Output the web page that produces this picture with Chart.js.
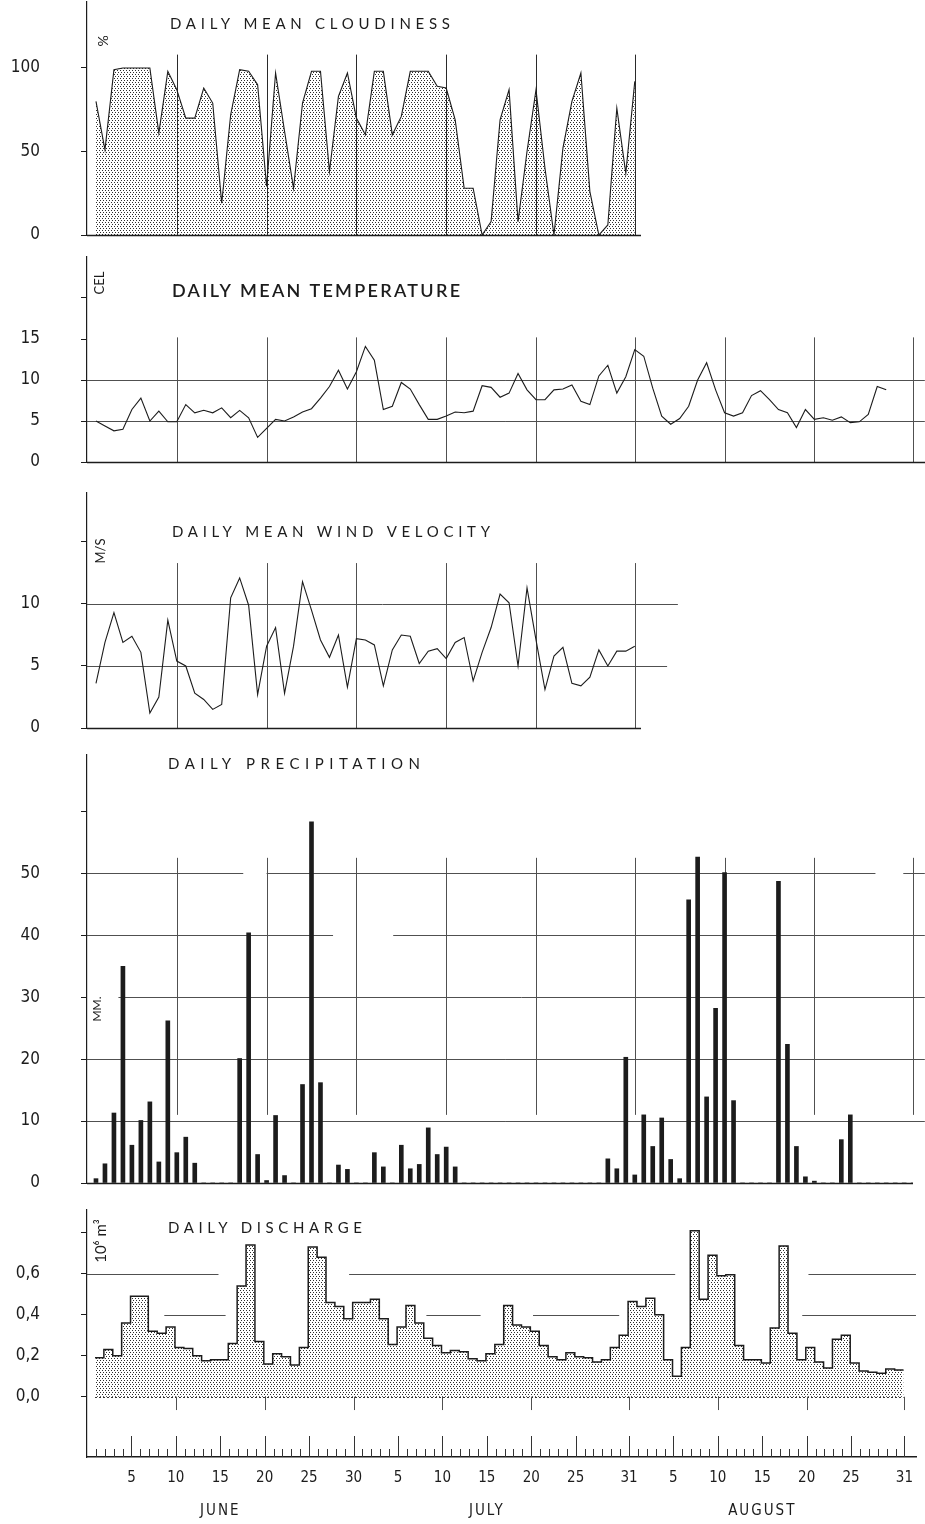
<!DOCTYPE html>
<html>
<head>
<meta charset="utf-8">
<title>Daily weather and discharge, June - August</title>
<script src="https://cdn.jsdelivr.net/npm/chart.js@4"></script>
<style>
  html, body { margin: 0; padding: 0; background: #fff; }
  body { width: 925px; height: 1524px; position: relative; overflow: hidden; }
  .panel { position: absolute; left: 0; width: 925px; }
</style>
</head>
<body>
<div class="panel" style="top:-10px;height:257px"><canvas id="cloud"></canvas></div>
<div class="panel" style="top:245px;height:229px"><canvas id="temp"></canvas></div>
<div class="panel" style="top:481px;height:259px"><canvas id="wind"></canvas></div>
<div class="panel" style="top:743px;height:452px"><canvas id="precip"></canvas></div>
<div class="panel" style="top:1198px;height:326px"><canvas id="discharge"></canvas></div>

<script>
// day 1 = 1 June, day 92 = 31 August
const monthNames = ['JUNE', 'JULY', 'AUGUST'];
const monthLengths = [30, 31, 31];
const gridDays = [10, 20, 30, 40, 50, 61, 71, 81, 92];

const cloudiness = [80, 51, 99, 100, 100, 100, 100, 61, 98, 87,
    70, 70, 88, 79, 19, 72, 99, 98, 90, 29,
    97, 62, 28, 79, 98, 98, 38, 83, 97, 70,
    60, 98, 98, 60, 71, 98, 98, 98, 89, 88,
    69, 28, 28, 0, 8, 69, 87, 8, 50, 87,
    40, 0, 52, 80, 97, 26, 0, 6, 76, 37,
    92];

const temperature = [5.0, 4.4, 3.8, 4.0, 6.4, 7.8, 5.0, 6.2, 4.9, 4.9,
    7.0, 6.0, 6.3, 6.0, 6.6, 5.4, 6.3, 5.4, 3.0, 4.1,
    5.2, 5.0, 5.5, 6.1, 6.5, 7.8, 9.2, 11.2, 8.9, 11.0,
    14.1, 12.4, 6.4, 6.8, 9.7, 8.9, 7.0, 5.2, 5.2, 5.6,
    6.1, 6.0, 6.2, 9.3, 9.1, 7.9, 8.4, 10.8, 8.8, 7.6,
    7.6, 8.8, 8.9, 9.4, 7.4, 7.0, 10.5, 11.8, 8.4, 10.4,
    13.7, 12.9, 9.0, 5.6, 4.6, 5.3, 6.8, 10.0, 12.1, 8.8,
    6.0, 5.6, 6.0, 8.1, 8.7, 7.6, 6.4, 6.0, 4.2, 6.4,
    5.2, 5.4, 5.1, 5.5, 4.8, 4.9, 5.8, 9.2, 8.8];

const windVelocity = [3.6, 6.9, 9.3, 6.9, 7.4, 6.1, 1.2, 2.5, 8.7, 5.4,
    5.0, 2.8, 2.3, 1.5, 1.9, 10.5, 12.1, 9.9, 2.7, 6.6,
    8.1, 2.8, 6.6, 11.8, 9.5, 7.1, 5.7, 7.5, 3.3, 7.2,
    7.1, 6.7, 3.4, 6.3, 7.5, 7.4, 5.2, 6.2, 6.4, 5.6,
    6.9, 7.3, 3.8, 6.1, 8.1, 10.8, 10.1, 5.0, 11.3, 7.1,
    3.1, 5.8, 6.5, 3.6, 3.4, 4.1, 6.3, 5.0, 6.2, 6.2,
    6.6];

const precipitation = [0.7, 3.1, 11.3, 35, 6.1, 10.1, 13.1, 3.4, 26.2, 4.9,
    7.4, 3.2, 0, 0, 0, 0, 20.1, 40.4, 4.6, 0.4,
    10.9, 1.2, 0, 15.9, 58.3, 16.2, 0, 2.9, 2.2, 0,
    0, 4.9, 2.6, 0, 6.1, 2.3, 3.0, 8.9, 4.6, 5.8,
    2.6, 0, 0, 0, 0, 0, 0, 0, 0, 0,
    0, 0, 0, 0, 0, 0, 0, 3.9, 2.3, 20.3,
    1.3, 11.0, 5.9, 10.5, 3.8, 0.7, 45.7, 52.6, 13.9, 28.2,
    50.1, 13.3, 0, 0, 0, 0, 48.7, 22.4, 5.9, 1.0,
    0.3, 0, 0, 7.0, 11.0, 0, 0, 0, 0, 0,
    0, 0];

const discharge = [0.19, 0.23, 0.20, 0.36, 0.49, 0.49, 0.32, 0.31, 0.34, 0.24,
    0.235, 0.20, 0.175, 0.18, 0.18, 0.26, 0.54, 0.74, 0.27, 0.16,
    0.21, 0.195, 0.155, 0.24, 0.73, 0.68, 0.46, 0.44, 0.38, 0.46,
    0.46, 0.475, 0.38, 0.255, 0.34, 0.445, 0.36, 0.285, 0.25, 0.215,
    0.225, 0.22, 0.185, 0.175, 0.21, 0.255, 0.445, 0.35, 0.34, 0.32,
    0.25, 0.195, 0.18, 0.215, 0.195, 0.19, 0.17, 0.18, 0.24, 0.30,
    0.465, 0.44, 0.48, 0.40, 0.18, 0.10, 0.24, 0.81, 0.475, 0.69,
    0.59, 0.595, 0.25, 0.18, 0.18, 0.165, 0.335, 0.735, 0.31, 0.18,
    0.24, 0.17, 0.14, 0.28, 0.30, 0.165, 0.125, 0.12, 0.115, 0.135,
    0.13];

const cloudTicks = [0, 50, 100];
const tempTicks = [0, 5, 10, 15, 20];
const windTicks = [0, 5, 10, 15];
const precipTicks = [0, 10, 20, 30, 40, 50, 60];
const dischargeTicks = [0, 0.2, 0.4, 0.6, 0.8];

// page geometry
const AXIS_X = 87;          // left axis line
const PX_DAY = 8.98;        // pixels per day
const PAGE_W = 925;
const INK = '#1c1c1c';
const GRID = '#505050';
const NUM_FONT = "'Liberation Sans Narrow', 'DejaVu Sans Condensed', sans-serif";
const TITLE_FONT = "Lato, 'DejaVu Sans', sans-serif";

// dotted screen used under the cloudiness and discharge curves
function stipple() {
    const tile = document.createElement('canvas');
    tile.width = 6;
    tile.height = 4;
    const g = tile.getContext('2d');
    g.fillStyle = '#2e2e2e';
    [[0, 0], [3, 0], [1, 2], [4, 2]].forEach(([px, py]) => g.fillRect(px, py, 1, 1));
    return g.createPattern(tile, 'repeat');
}

function dayOfMonth(d) {
    let m = 0;
    while (m < monthLengths.length - 1 && d > monthLengths[m]) {
        d -= monthLengths[m];
        m++;
    }
    return [m, d];
}

function isLabelled(dom, len) {
    return (dom % 5 === 0 && dom <= 25) || dom === len;
}

function series(values, shift) {
    return values.map((v, i) => ({ x: i + 1 - (shift || 0), y: v }));
}

// grid lines, titles, unit labels and the day axis
const decor = {
    id: 'decor',
    beforeDatasetsDraw(chart, args, o) {
        const { ctx, scales: { x, y } } = chart;
        ctx.save();
        ctx.lineWidth = 1;
        (o.hLines || []).forEach(h => {
            ctx.strokeStyle = h.color || GRID;
            ctx.setLineDash(h.dash || []);
            const py = Math.round(y.getPixelForValue(h.v)) + 0.5;
            h.segs.forEach(([d0, d1]) => {
                ctx.beginPath();
                ctx.moveTo(x.getPixelForValue(d0), py);
                ctx.lineTo(x.getPixelForValue(d1), py);
                ctx.stroke();
            });
        });
        ctx.setLineDash([]);
        if (o.vLines) {
            ctx.strokeStyle = o.vLines.color || GRID;
            gridDays.filter(d => d <= o.vLines.last).forEach(d => {
                const px = Math.round(x.getPixelForValue(d)) + 0.5;
                ctx.beginPath();
                ctx.moveTo(px, y.getPixelForValue(o.vLines.from));
                ctx.lineTo(px, y.getPixelForValue(o.vLines.to));
                ctx.stroke();
            });
        }
        ctx.restore();
    },
    afterDraw(chart, args, o) {
        const { ctx, chartArea: a, scales: { x } } = chart;
        ctx.save();
        ctx.fillStyle = INK;
        ctx.strokeStyle = INK;
        if (o.baseLine) {
            ctx.lineWidth = 1.3;
            ctx.beginPath();
            ctx.moveTo(a.left, a.bottom + 0.5);
            ctx.lineTo(a.right, a.bottom + 0.5);
            ctx.stroke();
        }
        if (o.title) {
            const t = o.title;
            ctx.font = (t.weight || 400) + ' ' + t.size + 'px ' + TITLE_FONT;
            const w = ctx.measureText(t.text).width;
            ctx.letterSpacing = Math.max(0, (t.x1 - t.x0 - w) / (t.text.length - 1)) + 'px';
            ctx.textBaseline = 'middle';
            ctx.textAlign = 'left';
            ctx.fillText(t.text, t.x0, t.y - o.top);
            ctx.letterSpacing = '0px';
        }
        if (o.unit) {
            const u = o.unit;
            ctx.font = '400 ' + u.size + 'px ' + TITLE_FONT;
            ctx.translate(u.x, u.y - o.top);
            ctx.rotate(-Math.PI / 2);
            ctx.textAlign = 'center';
            ctx.textBaseline = 'middle';
            ctx.fillText(u.text, 0, 0);
            ctx.setTransform(1, 0, 0, 1, 0, 0);
        }
        if (o.dayTicks) {
            ctx.lineWidth = 1;
            ctx.strokeStyle = '#333';
            let start = 0;
            monthLengths.forEach((len, m) => {
                for (let dom = 1; dom <= len; dom++) {
                    const px = Math.round(x.getPixelForValue(start + dom)) + 0.5;
                    ctx.beginPath();
                    ctx.moveTo(px, a.bottom);
                    ctx.lineTo(px, a.bottom - (isLabelled(dom, len) ? 21 : 8));
                    ctx.stroke();
                }
                ctx.font = '400 15px ' + NUM_FONT;
                ctx.letterSpacing = '2px';
                ctx.textAlign = 'center';
                ctx.textBaseline = 'middle';
                ctx.fillText(monthNames[m], x.getPixelForValue(start + 15), o.monthY - o.top);
                start += len;
            });
        }
        ctx.restore();
    }
};

function yAxis(min, max, ticks, lastLabel, fmt) {
    return {
        min, max,
        afterFit: s => {
            s.width = AXIS_X;
            // the wide label gap must not push the plot area in
            s.paddingTop = 0;
            s.paddingBottom = 0;
        },
        afterBuildTicks: s => { s.ticks = ticks.map(v => ({ value: v })); },
        grid: { drawOnChartArea: false, tickLength: 6, color: INK, lineWidth: 1 },
        border: { color: INK, width: 1.2 },
        ticks: {
            padding: 41, color: INK,
            font: { family: NUM_FONT, size: 17 },
            callback: v => v <= lastLabel ? (fmt ? fmt(v) : String(v)) : ''
        }
    };
}

function xHidden(right) {
    return { type: 'linear', min: 0, max: (right - AXIS_X) / PX_DAY, display: false, offset: false };
}

function panel(id, cfg) {
    return new Chart(document.getElementById(id), {
        type: cfg.type || 'line',
        data: { datasets: cfg.datasets },
        options: {
            animation: false,
            responsive: true,
            maintainAspectRatio: false,
            layout: { padding: { top: 12, bottom: cfg.bottomPad ?? 12, left: 0, right: PAGE_W - cfg.right } },
            scales: { x: cfg.x || xHidden(cfg.right), y: cfg.y },
            plugins: { legend: { display: false }, tooltip: { enabled: false }, decor: cfg.decor }
        },
        plugins: [decor]
    });
}

const lineStyle = { borderColor: INK, borderWidth: 1.1, pointRadius: 0, tension: 0 };

// 1. cloudiness
panel('cloud', {
    right: 641,
    y: yAxis(0, 139.5, cloudTicks, 100),
    datasets: [{ ...lineStyle, data: series(cloudiness), fill: 'origin', backgroundColor: stipple() }],
    decor: {
        top: -10, baseLine: true,
        vLines: { last: 61, from: 0, to: 108, color: '#2a2a2a' },
        title: { text: 'DAILY MEAN CLOUDINESS', x0: 170, x1: 450, y: 24, size: 15 },
        unit: { text: '%', x: 103, y: 41, size: 14 }
    }
});

// 2. temperature
panel('temp', {
    right: 925,
    y: yAxis(0, 25, tempTicks, 15),
    datasets: [{ ...lineStyle, data: series(temperature) }],
    decor: {
        top: 245, baseLine: true,
        hLines: [{ v: 5, segs: [[0, 93.3]] }, { v: 10, segs: [[0, 93.3]] }],
        vLines: { last: 92, from: 0, to: 15.2 },
        title: { text: 'DAILY MEAN TEMPERATURE', x0: 172, x1: 460, y: 291, size: 18, weight: 600 },
        unit: { text: 'CEL', x: 100, y: 283, size: 13 }
    }
});

// 3. wind velocity
panel('wind', {
    right: 641,
    y: yAxis(0, 18.95, windTicks, 10),
    datasets: [{ ...lineStyle, data: series(windVelocity) }],
    decor: {
        top: 481, baseLine: true,
        hLines: [{ v: 5, segs: [[0, 64.6]] }, { v: 10, segs: [[0, 65.8]] }],
        vLines: { last: 61, from: 0, to: 13.3 },
        title: { text: 'DAILY MEAN WIND VELOCITY', x0: 172, x1: 490, y: 532, size: 15 },
        unit: { text: 'M/S', x: 101, y: 551, size: 13 }
    }
});

// 4. precipitation
panel('precip', {
    type: 'bar',
    right: 913,
    y: yAxis(0, 69.1, precipTicks, 50),
    datasets: [{ data: series(precipitation), backgroundColor: INK, barThickness: 4, borderWidth: 0 }],
    decor: {
        top: 743, baseLine: true,
        hLines: [
            { v: 10, segs: [[0, 93.3]] },
            { v: 20, segs: [[0, 93.3]] },
            { v: 30, segs: [[3.5, 93.3]] },
            { v: 40, segs: [[0, 27.4], [34.1, 93.3]] },
            { v: 50, segs: [[0, 17.4], [20, 87.8], [90.9, 93.3]] }
        ],
        vLines: { last: 92, from: 11, to: 52.5 },
        title: { text: 'DAILY PRECIPITATION', x0: 168, x1: 420, y: 764, size: 15 },
        unit: { text: 'MM.', x: 97, y: 1009, size: 12 }
    }
});

// 5. discharge, with the shared day axis
const dischargeSteps = series(discharge, 0.1);
dischargeSteps.push({ x: discharge.length + 0.9, y: discharge[discharge.length - 1] });

panel('discharge', {
    right: 925,
    bottomPad: 0,
    x: {
        type: 'linear', min: 0, max: (925 - AXIS_X) / PX_DAY, offset: false,
        afterFit: s => { s.height = 67; },
        afterBuildTicks: s => {
            const n = monthLengths.reduce((p, c) => p + c, 0);
            s.ticks = Array.from({ length: n }, (_, i) => ({ value: i + 1 }));
        },
        grid: { display: false, drawTicks: false },
        border: { display: true, color: INK, width: 1.5 },
        ticks: {
            autoSkip: false, maxRotation: 0, minRotation: 0, padding: 12, color: INK,
            font: { family: NUM_FONT, size: 15 },
            callback: v => {
                const [m, dom] = dayOfMonth(v);
                return isLabelled(dom, monthLengths[m]) ? String(dom) : '';
            }
        }
    },
    y: yAxis(-0.294, 0.911, dischargeTicks, 0.6, v => v.toFixed(1).replace('.', ',')),
    datasets: [{
        data: dischargeSteps, stepped: true, borderColor: INK, borderWidth: 1.5,
        pointRadius: 0, fill: 'origin', backgroundColor: stipple()
    }],
    decor: {
        top: 1198, dayTicks: true, monthY: 1511,
        hLines: [
            { v: 0.6, segs: [[0, 14.8], [29.5, 66.2], [81.2, 93.3]] },
            { v: 0.4, segs: [[8.7, 15.6], [38.2, 44.3], [50.2, 59.9], [80.5, 93.3]] },
            { v: 0, segs: [[0.9, 91.9]], dash: [2, 2], color: '#333' }
        ],
        vLines: { last: 92, from: 0, to: -0.065 },
        title: { text: 'DAILY DISCHARGE', x0: 168, x1: 362, y: 1228, size: 15 },
        unit: { text: '10⁶ m³', x: 101, y: 1241, size: 15 }
    }
});
</script>
</body>
</html>
